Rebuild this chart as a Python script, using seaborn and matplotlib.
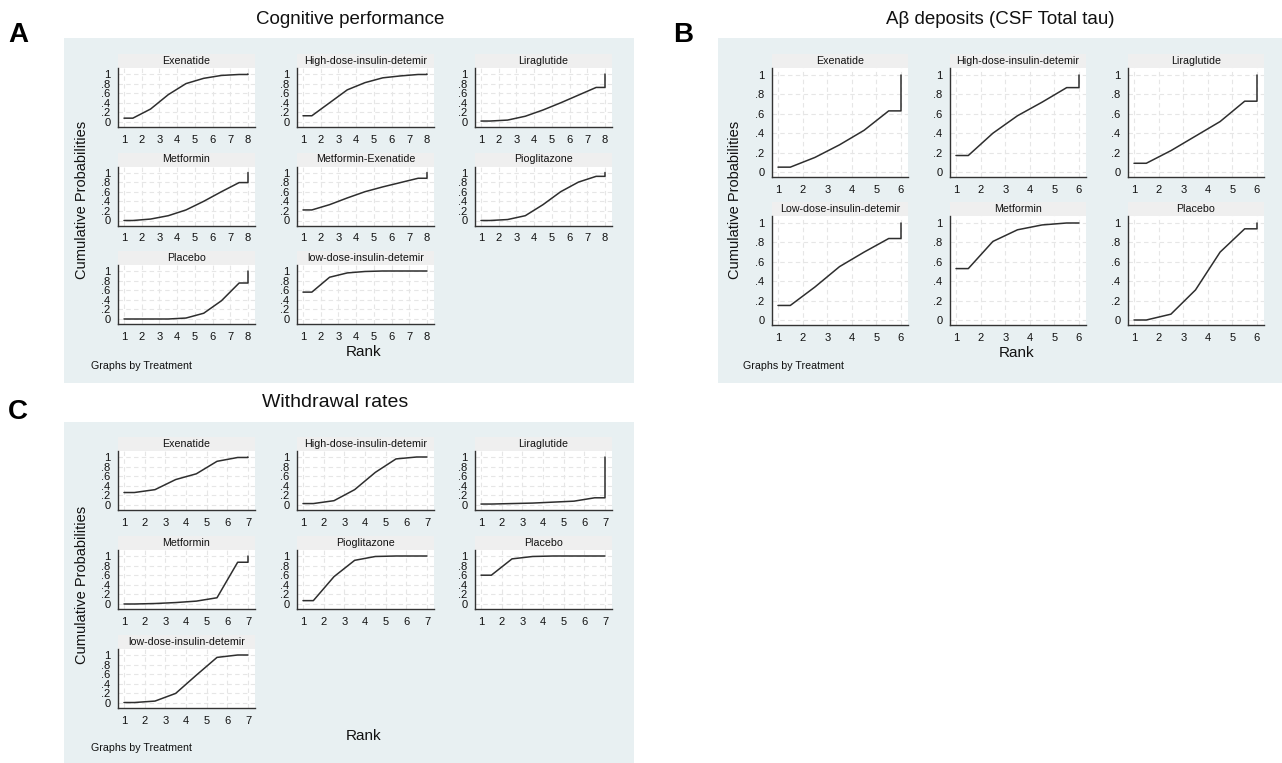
import matplotlib
matplotlib.use("Agg")
import matplotlib.pyplot as plt
from matplotlib.patches import Rectangle
import seaborn as sns

# ---- data: cumulative rank probabilities (ranks 1..n-1; rank n is always 1) ----
cog_treatments = ["Exenatide", "High-dose-insulin-detemir", "Liraglutide",
                  "Metformin", "Metformin-Exenatide", "Pioglitazone",
                  "Placebo", "low-dose-insulin-detemir"]
cog_cumprob = [
    [0.08, 0.27, 0.57, 0.80, 0.91, 0.97, 0.99],
    [0.13, 0.40, 0.67, 0.82, 0.92, 0.96, 0.99],
    [0.02, 0.04, 0.12, 0.25, 0.40, 0.56, 0.72],
    [0.00, 0.03, 0.10, 0.22, 0.40, 0.60, 0.79],
    [0.22, 0.33, 0.47, 0.60, 0.70, 0.79, 0.88],
    [0.00, 0.02, 0.10, 0.33, 0.60, 0.80, 0.92],
    [0.00, 0.00, 0.00, 0.02, 0.12, 0.38, 0.75],
    [0.56, 0.87, 0.96, 0.99, 1.00, 1.00, 1.00],
]
cog_nrank = 8

tau_treatments = ["Exenatide", "High-dose-insulin-detemir", "Liraglutide",
                  "Low-dose-insulin-detemir", "Metformin", "Placebo"]
tau_cumprob = [
    [0.05, 0.15, 0.28, 0.43, 0.63],
    [0.17, 0.40, 0.58, 0.72, 0.87],
    [0.09, 0.22, 0.37, 0.52, 0.73],
    [0.15, 0.34, 0.55, 0.70, 0.84],
    [0.53, 0.81, 0.93, 0.98, 1.00],
    [0.00, 0.06, 0.31, 0.70, 0.94],
]
tau_nrank = 6

wd_treatments = ["Exenatide", "High-dose-insulin-detemir", "Liraglutide",
                 "Metformin", "Pioglitazone", "Placebo",
                 "low-dose-insulin-detemir"]
wd_cumprob = [
    [0.26, 0.32, 0.53, 0.65, 0.91, 0.99],
    [0.03, 0.09, 0.32, 0.68, 0.96, 1.00],
    [0.02, 0.03, 0.04, 0.06, 0.08, 0.15],
    [0.00, 0.01, 0.03, 0.06, 0.13, 0.87],
    [0.07, 0.57, 0.91, 0.99, 1.00, 1.00],
    [0.60, 0.94, 0.99, 1.00, 1.00, 1.00],
    [0.01, 0.04, 0.20, 0.58, 0.95, 1.00],
]
wd_nrank = 7

ytick_vals = [0, 0.2, 0.4, 0.6, 0.8, 1]
ytick_labels = ["0", ".2", ".4", ".6", ".8", "1"]

# ---- style ----
sns.set_style("white")
narrow = ["Liberation Sans Narrow", "Liberation Sans", "DejaVu Sans"]
plt.rcParams["font.family"] = ["Liberation Sans", "DejaVu Sans"]
plt.rcParams["text.color"] = "#111111"

BG = "#E8F0F2"
STRIP = "#EFEFEF"
LINE = "#2e2e2e"
AXC = "#333333"

W, H = 1282, 763
fig = plt.figure(figsize=(W / 100, H / 100), dpi=100)


def px_axes(x, y, w, h):
    return fig.add_axes([x / W, 1 - (y + h) / H, w / W, h / H])


def px_text(x, y, s, **kw):
    fig.text(x / W, 1 - y / H, s, **kw)


def px_rect(x0, y0, x1, y1, color, z):
    fig.patches.append(Rectangle((x0 / W, 1 - y1 / H), (x1 - x0) / W, (y1 - y0) / H,
                                 transform=fig.transFigure, facecolor=color,
                                 edgecolor="none", zorder=z))


def sucra_xy(c, n):
    xs = [1] + [k + 0.5 for k in range(1, n)] + [n, n]
    ys = [c[0]] + list(c) + [c[-1], 1.0]
    return xs, ys


def draw_panel(treatments, cumprob, n, cols_x, rows_top, pw, ph, pad_t, pad_b):
    hdr = 14
    for i, (name, c) in enumerate(zip(treatments, cumprob)):
        r, k = divmod(i, 3)
        x0, y0 = cols_x[k], rows_top[r]
        px_rect(x0, y0 - hdr, x0 + pw, y0, STRIP, -0.5)
        px_text(x0 + pw / 2, y0 - hdr / 2, name, ha="center", va="center",
                fontsize=7.7, family=narrow)
        ax = px_axes(x0, y0, pw, ph)
        ax.set_facecolor("white")
        xs, ys = sucra_xy(c, n)
        sns.lineplot(x=xs, y=ys, sort=False, estimator=None, color=LINE,
                     linewidth=1.1, ax=ax)
        ux = (pw - 6 - 7) / (n - 1)
        uy = ph - pad_t - pad_b
        ax.set_xlim(1 - 6 / ux, n + 7 / ux)
        ax.set_ylim(-pad_b / uy, 1 + pad_t / uy)
        ax.set_xticks(range(1, n + 1))
        ax.set_xticklabels([str(v) for v in range(1, n + 1)])
        ax.set_yticks(ytick_vals)
        ax.set_yticklabels(ytick_labels)
        ax.grid(True, color="#E6E6E6", linestyle=(0, (4, 3)), linewidth=0.8)
        ax.set_axisbelow(True)
        for s in ["top", "right"]:
            ax.spines[s].set_visible(False)
        for s in ["left", "bottom"]:
            ax.spines[s].set_color(AXC)
            ax.spines[s].set_linewidth(1.0)
        ax.tick_params(direction="out", length=4, width=1, color=AXC, pad=1.5,
                       labelsize=8, labelcolor="#111111")
        for lab in ax.get_xticklabels() + ax.get_yticklabels():
            lab.set_family(narrow)
        ax.set_xlabel("")
        ax.set_ylabel("")


# ---- panel A ----
px_rect(64, 38, 634, 383, BG, -1)
draw_panel(cog_treatments, cog_cumprob, cog_nrank,
           [118, 297, 475], [68, 166.5, 265], 137, 59, 6, 5)
px_text(350, 19, "Cognitive performance", ha="center", va="center", fontsize=13.5)
px_text(364, 352, "Rank", ha="center", va="center", fontsize=11)
px_text(82, 200, "Cumulative Probabilities", ha="center", va="center",
        rotation=90, fontsize=10.5)
px_text(91, 366, "Graphs by Treatment", ha="left", va="center", fontsize=7.7,
        family=narrow)
px_text(18, 35, "A", ha="center", va="center", fontsize=20, fontweight="bold",
        color="black")

# ---- panel B ----
px_rect(718, 38, 1282, 383, BG, -1)
draw_panel(tau_treatments, tau_cumprob, tau_nrank,
           [772, 950, 1128], [68, 216], 136, 109, 7, 5)
px_text(1000, 19, "A\u03b2 deposits (CSF Total tau)", ha="center", va="center",
        fontsize=13.5)
px_text(1017, 353, "Rank", ha="center", va="center", fontsize=11)
px_text(735, 200, "Cumulative Probabilities", ha="center", va="center",
        rotation=90, fontsize=10.5)
px_text(743, 366, "Graphs by Treatment", ha="left", va="center", fontsize=7.7,
        family=narrow)
px_text(683, 35, "B", ha="center", va="center", fontsize=20, fontweight="bold",
        color="black")

# ---- panel C ----
px_rect(64, 422, 634, 763, BG, -1)
draw_panel(wd_treatments, wd_cumprob, wd_nrank,
           [118, 297, 475], [451, 550, 649], 137, 59, 6, 5)
px_text(335, 403, "Withdrawal rates", ha="center", va="center", fontsize=14)
px_text(364, 736, "Rank", ha="center", va="center", fontsize=11)
px_text(82, 585, "Cumulative Probabilities", ha="center", va="center",
        rotation=90, fontsize=10.5)
px_text(91, 748, "Graphs by Treatment", ha="left", va="center", fontsize=7.7,
        family=narrow)
px_text(18, 412, "C", ha="center", va="center", fontsize=20, fontweight="bold",
        color="black")

fig.savefig("out.png", dpi=100)
